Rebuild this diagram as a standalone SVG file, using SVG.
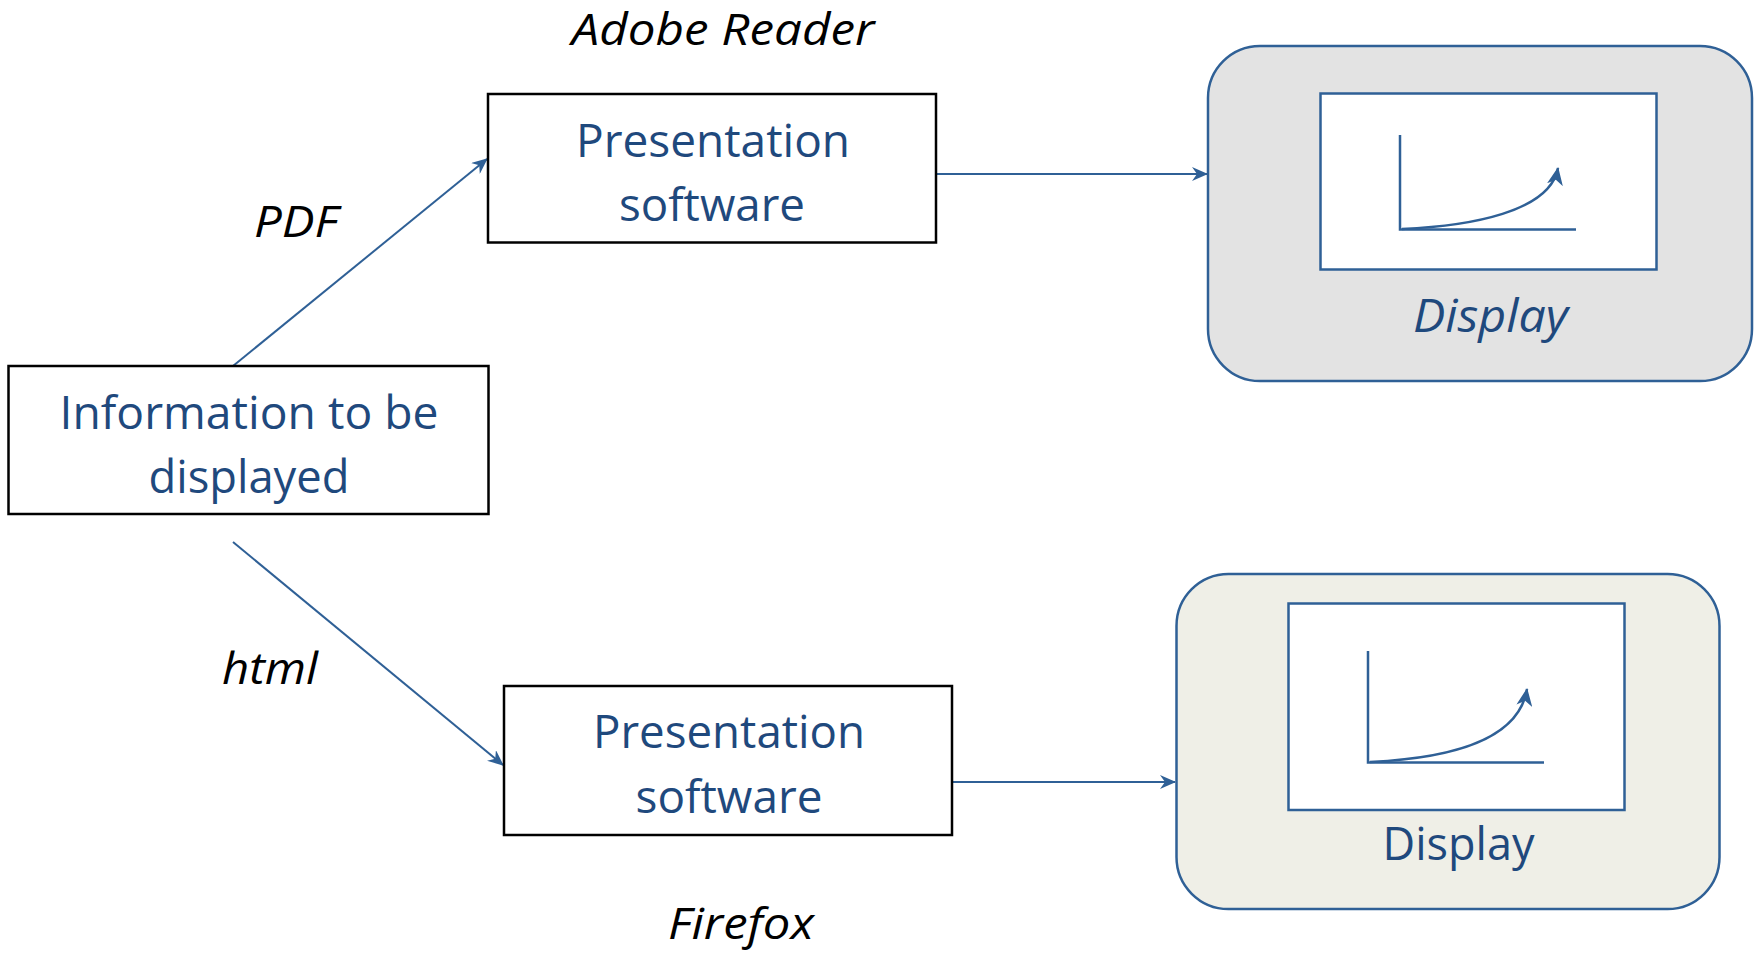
<svg xmlns="http://www.w3.org/2000/svg" width="1760" height="954" viewBox="0 0 1760 954">
<style>
.box{fill:#fff;stroke:#000;stroke-width:2.5}
.disp{stroke:#2F6096;stroke-width:2.5}
.scr{fill:#fff;stroke:#2F6096;stroke-width:2.5}
.ax{fill:none;stroke:#2F6096;stroke-width:2.5}
.con{fill:none;stroke:#2F6096;stroke-width:2}
.bt{font-family:"Open Sans","Noto Sans",sans-serif;font-size:46px;fill:#1F497D;text-anchor:middle}
.lbl{font-family:"Open Sans","Noto Sans",sans-serif;font-size:44px;font-style:italic;fill:#000;text-anchor:middle}
</style>
<defs>
<marker id="ah" markerUnits="userSpaceOnUse" markerWidth="16" markerHeight="14" viewBox="0 0 16 14" refX="15" refY="7" orient="auto">
<path d="M0,0 L16,7 L0,14 L5,7 z" fill="#2F6096"/>
</marker>
<marker id="ch" markerUnits="userSpaceOnUse" markerWidth="18" markerHeight="16" viewBox="0 0 18 16" refX="17" refY="8" orient="auto">
<path d="M0,0 L18,8 L0,16 L5,8 z" fill="#2F6096"/>
</marker>
</defs>
<g id="connectors">
<line class="con" x1="233" y1="366" x2="487" y2="159" marker-end="url(#ah)"/>
<line class="con" x1="233" y1="542" x2="503" y2="765" marker-end="url(#ah)"/>
<line class="con" x1="936" y1="174" x2="1207" y2="174" marker-end="url(#ah)"/>
<line class="con" x1="952" y1="782" x2="1175" y2="782" marker-end="url(#ah)"/>
</g>
<g id="info">
<rect class="box" x="8.5" y="366" width="480" height="148"/>
<text class="bt" x="249" y="429" textLength="379" lengthAdjust="spacingAndGlyphs">Information to be</text>
<text class="bt" x="249" y="493" textLength="201" lengthAdjust="spacingAndGlyphs">displayed</text>
</g>
<g id="pdf-label"><text class="lbl" x="296" y="237" textLength="84" lengthAdjust="spacingAndGlyphs">PDF</text></g>
<g id="html-label"><text class="lbl" x="270" y="684" textLength="96" lengthAdjust="spacingAndGlyphs">html</text></g>
<g id="adobe-label"><text class="lbl" x="723" y="45" textLength="303" lengthAdjust="spacingAndGlyphs">Adobe Reader</text></g>
<g id="firefox-label"><text class="lbl" x="741" y="939" textLength="146" lengthAdjust="spacingAndGlyphs">Firefox</text></g>
<g id="pres-top">
<rect class="box" x="488" y="94" width="448" height="148.5"/>
<text class="bt" x="713" y="157" textLength="274" lengthAdjust="spacingAndGlyphs">Presentation</text>
<text class="bt" x="712" y="221" textLength="186" lengthAdjust="spacingAndGlyphs">software</text>
</g>
<g id="pres-bottom">
<rect class="box" x="504" y="686" width="448" height="149"/>
<text class="bt" x="729" y="748" textLength="272" lengthAdjust="spacingAndGlyphs">Presentation</text>
<text class="bt" x="729" y="813" textLength="187" lengthAdjust="spacingAndGlyphs">software</text>
</g>
<g id="display-top">
<rect class="disp" x="1208" y="46" width="544" height="335" rx="52" ry="52" fill="#E3E3E3"/>
<rect class="scr" x="1320.5" y="93.5" width="336" height="176"/>
<path class="ax" d="M1400,135 L1400,229.5 L1576,229.5"/>
<path class="ax" d="M1402,229 C1470,226 1550,212 1558,168" marker-end="url(#ch)"/>
<text class="bt" x="1490.5" y="332" font-style="italic" textLength="155" lengthAdjust="spacingAndGlyphs">Display</text>
</g>
<g id="display-bottom">
<rect class="disp" x="1176.5" y="574" width="543" height="335" rx="52" ry="52" fill="#EFEFE7"/>
<rect class="scr" x="1288.5" y="603.5" width="336" height="206.5"/>
<path class="ax" d="M1368,651 L1368,762.5 L1544,762.5"/>
<path class="ax" d="M1370,762 C1435,759 1518,746 1527,689" marker-end="url(#ch)"/>
<text class="bt" x="1458.5" y="860" textLength="152" lengthAdjust="spacingAndGlyphs">Display</text>
</g>
</svg>
